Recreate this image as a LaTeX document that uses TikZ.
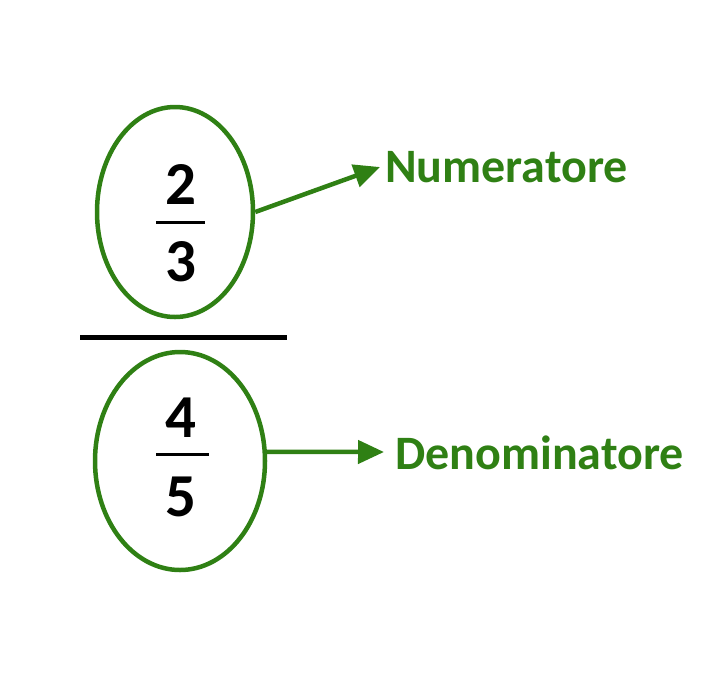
\documentclass[tikz,border=0pt]{standalone}
\usepackage{fontspec}
\setmainfont{Carlito}
\usetikzlibrary{shapes.geometric,arrows.meta}
\definecolor{fgreen}{RGB}{47,128,20}
\tikzset{
  oval/.style={ellipse, draw=fgreen, line width=4.5pt, inner sep=0pt},
  digit/.style={inner sep=0pt, font=\fontsize{61}{61}\selectfont\bfseries, text=black},
  lbl/.style={inner sep=0pt, anchor=west, font=\fontsize{48}{48}\selectfont\bfseries, text=fgreen},
  fbar/.style={line width=3pt, black},
  pointer/.style={draw=fgreen, line width=4.5pt, -{Triangle[length=26pt,width=23pt]}}
}
\begin{document}
\begin{tikzpicture}[x=1pt,y=-1pt]
\useasboundingbox (0,0) rectangle (727,689);
\node[oval, minimum width=156pt, minimum height=210pt] (e1) at (175,212) {};
\node[oval, minimum width=170pt, minimum height=218pt] (e2) at (180,461) {};
\node[digit] (n2) at (181,184) {2};
\node[digit] (n3) at (181,262) {3};
\coordinate (b1l) at (156,222);
\coordinate (b1r) at (205,222);
\draw[fbar] (b1l) -- (b1r);
\node[digit] (n4) at (181,418) {4};
\node[digit] (n5) at (181,497) {5};
\coordinate (b2l) at (156,454);
\coordinate (b2r) at (209,454);
\draw[fbar] (b2l) -- (b2r);
\coordinate (ml) at (80,337);
\coordinate (mr) at (287,337);
\draw[line width=5pt, black] (ml) -- (mr);
\node[lbl] (num) at (385,167) {Numeratore};
\node[lbl] (den) at (395,453) {Denominatore};
\coordinate (t1) at (380,167);
\coordinate (t2) at (384,452);
\draw[pointer] (e1.east) -- (t1);
\draw[pointer] (e2.6) -- (t2);
\end{tikzpicture}
\end{document}
